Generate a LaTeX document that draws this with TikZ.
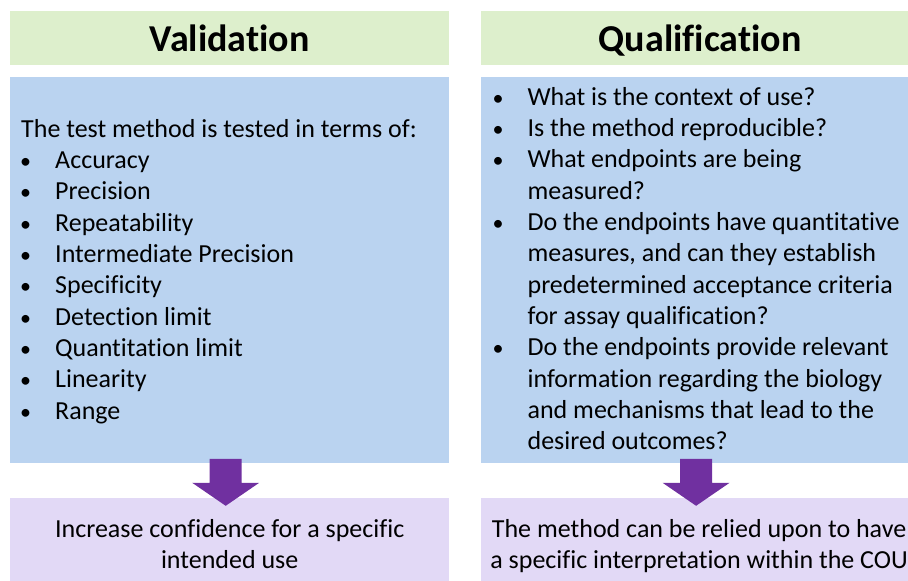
\documentclass[tikz,border=0pt]{standalone}
\usepackage{fontspec}
\setmainfont[Ligatures=NoCommon]{Carlito}
\usetikzlibrary{positioning,calc}
\definecolor{headgreen}{HTML}{DDEFCC}
\definecolor{bodyblue}{HTML}{BAD3F0}
\definecolor{resultlilac}{HTML}{E2D9F6}
\definecolor{arrowpurple}{HTML}{7030A0}
\tikzset{
  panel/.style   = {rectangle, inner sep=0pt, minimum width=439pt},
  head/.style    = {panel, fill=headgreen, minimum height=54pt},
  body/.style    = {panel, fill=bodyblue, minimum height=386pt},
  result/.style  = {panel, fill=resultlilac, minimum height=94pt},
  title/.style   = {inner sep=0pt, anchor=base, font=\fontsize{38}{44}\selectfont\bfseries},
  line/.style    = {inner sep=0pt, anchor=base west, font=\fontsize{26}{31}\selectfont},
  dot/.style     = {line, font=\fontsize{22}{31}\selectfont},
  centred/.style = {line, anchor=base},
  blockarrow/.style = {fill=arrowpurple}
}

\begin{document}
\begin{tikzpicture}[x=1pt, y=1pt]
\useasboundingbox (0,0) rectangle (908,581);
\clip (0,0) rectangle (908,581);

% the two columns: header, body and result panels
\node[head, anchor=north west] (v-head) at (10,570) {};
\node[body, below=11pt of v-head] (v-body) {};
\node[result, below=35pt of v-body] (v-res) {};

\node[head, right=31pt of v-head] (q-head) {};
\node[body, below=11pt of q-head] (q-body) {};
\node[result, below=35pt of q-body] (q-res) {};

% titles
\node[title] (v-title) at ($(v-head.south)+(0,14)$) {Validation};
\node[title] (q-title) at ($(q-head.south)+(0,14)$) {Qualification};

% validation list
\node[line] (v-intro) at ($(v-body.north west)+(11,-61)$) {The test method is tested in terms of:};
\foreach \txt [count=\i] in {Accuracy, Precision, Repeatability, Intermediate Precision,
    Specificity, Detection limit, Quantitation limit, Linearity, Range} {
  \node[dot] (v-bul\i) at ($(v-intro.base west)+(-1,{-31.3*\i})$) {•};
  \node[line] (v-item\i) at ($(v-intro.base west)+(34,{-31.3*\i})$) {\txt};
}

% qualification list, bullets only on the first line of each question
\foreach \txt [count=\i] in {What is the context of use?, Is the method reproducible?,
    What endpoints are being, measured?, Do the endpoints have quantitative,
    {measures, and can they establish}, predetermined acceptance criteria,
    for assay qualification?, Do the endpoints provide relevant,
    information regarding the biology, and mechanisms that lead to the,
    desired outcomes?}
  \node[line] (q-line\i) at ($(q-body.north west)+(47,{-29-31.3*(\i-1)})$) {\txt};
\foreach \i in {1,2,3,5,9}
  \node[dot] (q-bul\i) at ($(q-line\i.base west)+(-35,0)$) {•};

% block arrows from body to result
\foreach \col in {v,q}
  \fill[blockarrow] ($(\col-body.south)+(-20,4)$) -- ++(32,0) -- ++(0,-24) -- ++(17.5,0)
    -- ++(-33.5,-23) -- ++(-33.5,23) -- ++(17.5,0) -- cycle;

% results
\node[centred] (v-res1) at ($(v-res.north)+(0,-40)$) {Increase confidence for a specific};
\node[centred] (v-res2) at ($(v-res.north)+(0,-71)$) {intended use};
\node[centred] (q-res1) at ($(q-res.north)+(-1,-40)$) {The method can be relied upon to have};
\node[centred] (q-res2) at ($(q-res.north)+(-1,-71)$) {a specific interpretation within the COU};

\end{tikzpicture}
\end{document}
